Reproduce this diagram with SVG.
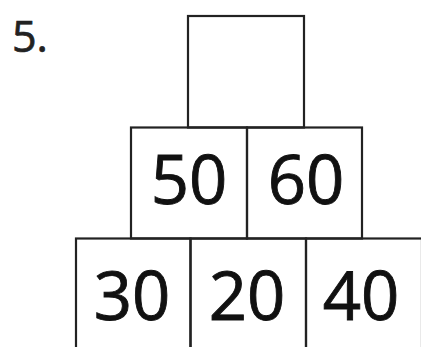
<svg xmlns="http://www.w3.org/2000/svg" width="421" height="347" viewBox="0 0 421 347">
<style>
.box{fill:none;stroke:#222;stroke-width:2.2}
.num{font-family:"Open Sans","Noto Sans",sans-serif;font-size:67px;fill:#111;stroke:#111;stroke-width:0.9;text-anchor:middle}
.lbl{font-family:"Open Sans","Noto Sans",sans-serif;font-size:43px;fill:#222;stroke:#222;stroke-width:0.7}
</style>
<rect width="421" height="347" fill="#fff"/>
<text class="lbl" x="12" y="52">5.</text>
<g id="top"><rect class="box" x="188" y="16" width="116" height="111.5"/></g>
<g id="n50"><rect class="box" x="131" y="127.5" width="116" height="111"/><text class="num" x="189" y="204">50</text></g>
<g id="n60"><rect class="box" x="247" y="127.5" width="115" height="111"/><text class="num" x="306" y="204">60</text></g>
<g id="n30"><rect class="box" x="76" y="238.5" width="114.5" height="112"/><text class="num" x="132" y="320">30</text></g>
<g id="n20"><rect class="box" x="190.5" y="238.5" width="115.5" height="112"/><text class="num" x="247" y="320">20</text></g>
<g id="n40"><rect class="box" x="306" y="238.5" width="116" height="112"/><text class="num" x="361" y="320">40</text></g>
<g id="connectors"></g>
</svg>
